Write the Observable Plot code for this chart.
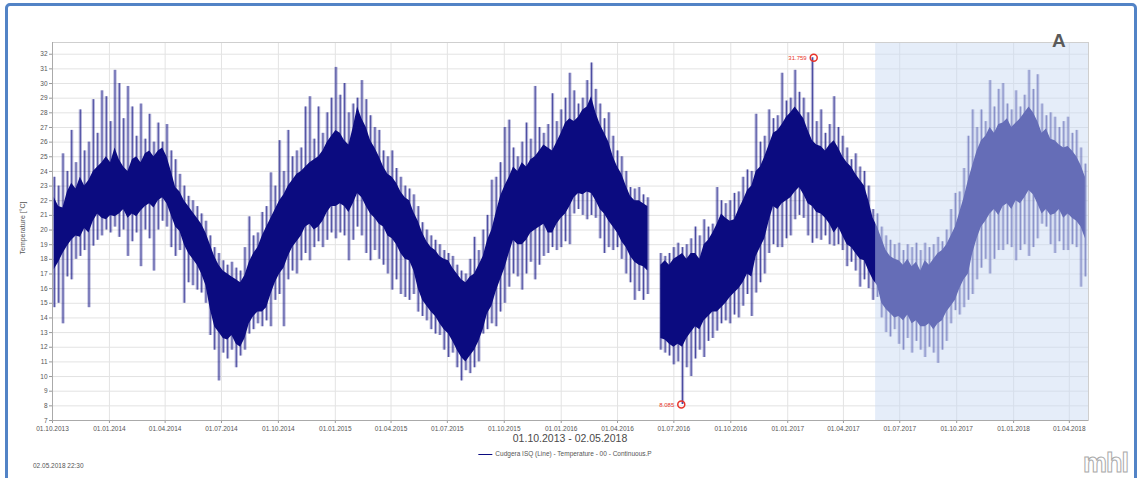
<!DOCTYPE html>
<html><head><meta charset="utf-8">
<script src="https://cdn.jsdelivr.net/npm/d3@7"></script>
<script src="https://cdn.jsdelivr.net/npm/@observablehq/plot@0.6"></script>
<style>
body{margin:0;background:#fff;font-family:"Liberation Sans",Arial,sans-serif;}
#wrap{position:relative;width:1140px;height:478px;overflow:hidden;background:#fff}
#chart{position:absolute;left:0;top:0}
#border{position:absolute;left:5px;top:3px;width:1132px;height:492px;border:3px solid #5283c6;border-radius:5px;box-sizing:border-box;pointer-events:none}
.t{position:absolute;white-space:nowrap;color:#555}
</style></head>
<body><div id="wrap">
<div id="chart"></div>
<div id="border"></div>
<div class="t" id="ylab" style="left:22px;top:228px;font-size:7px;transform:translate(-50%,-50%) rotate(-90deg)">Temperature [°C]</div>
<div class="t" style="left:570px;top:432px;font-size:10.5px;transform:translateX(-50%);color:#4a4a4a">01.10.2013 - 02.05.2018</div>
<div class="t" style="left:565px;top:450px;font-size:6.5px;transform:translateX(-50%);color:#555"><span style="display:inline-block;width:14px;height:1px;background:#0b0b80;vertical-align:middle;margin-right:3px"></span>Cudgera ISQ (Line) - Temperature - 00 - Continuous.P</div>
<div class="t" style="left:33px;top:462px;font-size:6.5px;color:#555">02.05.2018 22:30</div>
<div class="t" style="left:1052px;top:30px;font-size:19px;font-weight:bold;color:#5a5a5a">A</div>
<div class="t" style="left:1083px;top:448px;font-size:27px;font-weight:bold;color:#fff;-webkit-text-stroke:1px #aaa;letter-spacing:-1px">mhl</div>
</div>
<script>
// sampling grid: one sample every 7 days from 04.10.2013
const startDate = "2013-10-04";
const stepDays = 7;
const coreLo = [17.3,17.8,18.4, 18.9,19.3,19.6, 19.5,20.1,19.8, 20.6,21.1,20.8, 20.7,21.0,20.9,
 21.1,21.4,20.8, 21.1,20.9,21.3, 21.6,21.8,21.5, 22.0,22.2,21.8, 21.0,20.2,19.9,
 19.0,18.4,18.0, 17.6,17.0,16.2, 14.6,13.4,13.0, 12.6,12.5,12.8, 12.2,12.0,12.6,
 13.6,14.1,14.4, 14.4,14.7,15.6, 16.4,17.0,17.4, 18.2,18.8,19.2, 19.6,20.2,20.4,
 20.0,20.2,20.6, 21.2,21.6,21.6, 21.8,21.6,21.2, 21.8,22.5,22.2, 21.6,21.1,20.8,
 20.4,20.2,19.6, 19.4,19.0,18.4, 18.0,17.9,17.2, 16.0,15.2,14.8, 14.4,14.1,13.6,
 13.2,12.9,12.4, 11.8,11.3,11.0, 11.4,11.8,12.4, 13.2,14.3,14.8, 15.8,16.6,17.4,
 18.4,19.3,19.0, 19.0,19.3,19.8, 20.0,20.2,20.4, 19.8,19.8,20.4, 20.8,21.1,21.6,
 22.2,22.5,22.4, 22.6,22.5,22.0, 21.4,21.1,20.6, 20.2,19.8,19.2, 18.8,18.2,17.8,
 17.6,17.5,17.2, null,null,12.6, 12.5,12.2,12.0, 12.2,12.0,12.6, 13.0,13.4,13.2,
 13.8,14.1,14.4, 14.4,14.7,15.0, 15.4,15.7,16.0, 16.4,17.0,16.8, 18.2,18.8,19.4,
 20.6,21.6,21.4, 21.8,22.0,22.2, 22.6,22.9,22.4, 21.8,21.6,21.2, 21.1,20.8,20.4,
 19.8,20.2,19.6, 19.0,18.8,18.4, 18.0,17.9,17.2, 16.6,16.2,15.0, 14.6,14.3,14.0,
 14.1,13.8,14.2, 13.6,13.8,13.4, 13.4,13.6,13.2, 13.6,13.8,14.4, 14.8,15.2,16.0,
 16.6,17.0,18.4, 19.4,20.2,20.6, 21.1,21.4,21.0, 21.6,21.8,21.4, 22.0,21.8,22.2,
 22.7,22.4,21.8, 21.1,21.4,21.0, 21.1,21.4,20.8, 21.1,20.8,20.6, 20.2,19.4];
const coreHi = [22.2,21.6,21.5, 22.6,23.2,22.8, 23.6,23.0,23.4, 24.0,24.3,24.6, 25.0,24.6,25.6,
 24.8,24.3,24.0, 24.8,25.0,24.6, 25.2,25.4,25.0, 25.4,25.6,25.0, 24.0,22.9,22.6,
 22.0,21.6,21.2, 20.8,20.4,19.8, 19.0,18.2,17.6, 17.2,17.0,16.8, 16.6,16.4,16.9,
 17.8,18.4,18.8, 19.6,20.2,20.8, 21.4,22.0,22.4, 23.0,23.4,23.8, 24.0,24.3,24.6,
 24.8,25.0,25.4, 26.0,26.4,26.8, 26.6,26.1,25.8, 27.0,28.4,27.6, 27.0,26.1,25.6,
 25.0,24.3,23.8, 23.6,23.2,22.6, 22.2,22.0,21.2, 20.6,19.8,19.2, 18.8,18.6,18.2,
 18.0,17.9,17.4, 17.0,16.6,16.4, 16.8,17.0,17.6, 18.2,19.3,20.0, 21.2,22.3,23.0,
 23.6,24.3,24.0, 24.6,24.3,24.8, 25.0,25.4,25.8, 25.6,25.4,26.0, 26.6,27.3,27.6,
 27.4,27.7,28.2, 28.4,29.1,28.0, 27.2,26.6,26.0, 25.0,24.3,23.8, 23.0,22.3,22.0,
 22.0,21.8,21.6, null,null,17.6, 17.9,17.6,18.0, 18.2,18.4,18.0, 18.4,18.4,18.0,
 19.0,19.3,19.8, 20.4,21.1,20.8, 20.6,20.7,21.4, 22.0,22.7,23.0, 24.0,24.3,25.0,
 25.8,26.6,26.8, 27.2,27.7,28.0, 28.4,28.0,27.6, 26.8,26.1,25.8, 25.7,25.4,25.8,
 26.1,25.6,25.0, 24.6,24.3,23.8, 23.4,23.0,22.0, 20.8,20.2,19.4, 18.6,18.2,18.0,
 17.9,17.6,18.0, 17.5,17.8,17.2, 17.9,17.6,18.0, 18.4,18.6,19.0, 19.6,20.2,21.2,
 22.2,23.4,24.4, 25.4,26.1,26.4, 27.0,26.6,27.2, 27.3,27.6,27.0, 27.3,27.6,28.0,
 28.4,28.0,27.4, 26.6,26.9,26.2, 26.1,25.8,25.6, 25.7,25.4,25.0, 24.4,23.6];
const spikeLo = [14.7,15.0,13.6, 16.8,16.6,18.0, 18.2,18.6,14.7, 18.9,19.3,19.6, 20.0,19.8,20.2,
 19.5,20.0,18.2, 19.2,19.8,17.5, 20.0,19.4,17.2, 20.0,20.6,20.2, 18.8,18.2,18.6,
 15.0,16.4,16.2, 15.9,15.7,15.0, 12.8,11.8,9.7, 11.6,11.2,11.8, 10.6,11.4,11.8,
 12.9,13.2,13.6, 13.4,13.8,13.4, 15.2,15.6,13.4, 16.6,17.2,17.0, 17.9,18.4,17.9,
 18.8,19.2,18.8, 19.3,19.8,19.4, 19.8,19.6,17.9, 19.3,20.2,19.6, 18.4,17.9,18.6,
 18.0,17.6,17.0, 15.9,16.6,15.6, 15.4,15.2,15.6, 14.4,14.1,13.8, 13.2,12.9,12.8,
 11.8,11.3,11.6, 10.6,9.7,10.4, 10.2,10.6,11.0, 12.9,13.2,13.6, 13.4,14.4,15.0,
 16.1,17.0,16.8, 15.9,17.0,17.8, 16.6,17.6,18.2, 18.4,18.8,18.6, 18.8,19.2,19.0,
 21.1,21.4,21.0, 20.7,21.0,20.8, 19.4,18.4,18.8, 18.6,18.8,18.0, 17.0,16.4,15.2,
 15.8,15.2,15.6, null,null,11.8, 11.6,11.4,10.8, 11.0,8.09,10.6, 10.0,11.2,11.8,
 11.3,12.4,12.6, 13.1,13.6,13.8, 13.6,14.2,14.0, 14.8,15.6,14.1, 15.7,16.4,17.0,
 18.4,19.0,18.8, 18.8,19.4,19.6, 20.7,21.0,20.8, 19.6,19.1,19.4, 19.3,19.6,19.0,
 18.9,19.0,18.6, 17.5,17.8,17.2, 16.1,16.6,16.0, 15.2,15.4,14.0, 13.0,12.7,13.2,
 12.2,11.8,12.6, 11.6,12.4,11.8, 11.3,12.0,11.6, 10.9,11.8,12.4, 13.6,14.5,14.2,
 14.7,15.2,15.6, 16.6,17.4,18.0, 17.0,18.0,18.6, 18.6,19.0,18.8, 17.9,18.6,19.0,
 18.2,18.8,19.4, 20.4,20.2,19.0, 18.4,19.2,18.6, 18.6,19.0,18.8, 16.1,16.8];
const spikeHi = [23.6,23.0,25.2, 24.0,26.8,24.6, 28.2,25.4,26.0, 28.9,26.6,29.5, 29.1,27.4,30.9,
 30.0,27.6,29.8, 28.4,26.4,28.6, 26.2,27.9,26.0, 27.3,26.0,27.2, 25.4,24.8,23.8,
 23.0,22.3,22.0, 21.6,21.1,20.6, 19.6,18.8,18.4, 17.9,17.6,17.8, 17.4,17.2,18.8,
 20.9,19.6,19.8, 21.2,21.6,23.9, 23.0,26.1,24.0, 26.8,25.0,25.4, 25.6,28.4,29.1,
 26.2,28.4,26.6, 28.0,29.0,31.1, 29.2,30.0,28.0, 28.6,29.0,30.2, 28.9,27.8,27.0,
 26.8,25.4,25.0, 25.4,24.2,23.6, 23.0,22.8,22.4, 21.6,20.5,20.0, 19.6,19.3,19.0,
 18.6,18.4,18.2, 17.6,17.2,17.0, 18.0,19.5,18.6, 20.0,21.0,23.4, 23.6,24.6,27.0,
 27.5,25.6,25.0, 26.0,27.3,26.2, 29.8,27.0,26.6, 27.2,29.3,27.4, 28.2,29.0,30.7,
 29.5,28.6,29.0, 30.2,31.4,29.6, 28.6,27.6,28.0, 26.4,25.4,25.0, 24.0,22.9,22.8,
 22.9,22.4,22.2, null,null,18.4, 18.2,18.4,18.8, 19.1,18.8,19.0, 19.4,20.2,19.6,
 20.7,20.2,20.4, 22.9,22.0,21.8, 22.0,22.5,22.6, 23.6,24.1,24.0, 27.9,26.0,26.4,
 28.2,27.6,27.8, 30.7,28.8,29.0, 30.9,29.4,29.0, 28.0,31.76,27.4, 28.2,26.6,27.2,
 29.1,27.0,26.4, 25.6,24.8,25.2, 24.3,24.0,23.0, 21.4,21.1,20.2, 19.6,19.3,19.0,
 19.1,18.6,19.0, 18.8,19.1,18.6, 19.1,18.8,19.0, 19.5,19.2,20.0, 21.4,22.5,22.6,
 24.2,26.4,28.2, 27.0,28.2,27.4, 30.2,28.4,29.6, 30.0,28.6,28.2, 29.5,28.4,29.2,
 30.9,29.6,30.6, 28.6,27.8,28.0, 27.7,27.0,27.4, 27.7,26.6,26.8, 25.6,24.5];
const yTicks = [7,8,9,10,11,12,13,14,15,16,17,18,19,20,21,22,23,24,25,26,27,28,29,30,31,32];
const xTicks = ["2013-10-01","2014-01-01","2014-04-01","2014-07-01","2014-10-01","2015-01-01","2015-04-01","2015-07-01","2015-10-01","2016-01-01","2016-04-01","2016-07-01","2016-10-01","2017-01-01","2017-04-01","2017-07-01","2017-10-01","2018-01-01","2018-04-01"];
const xDomain = ["2013-10-01","2018-05-02"];
const shaded = [{x1:"2017-05-23", x2:"2018-05-02"}];
const extremes = [{date:"2017-02-12", value:31.759, label:"31.759"},{date:"2016-07-13", value:8.085, label:"8.085"}];

const start = new Date(startDate);
const samples = coreHi.map((h,i)=>({date: d3.utcDay.offset(start, i*stepDays), hi:h, lo:coreLo[i], up:spikeHi[i], down:spikeLo[i]}));
const valid = samples.filter(d=>d.hi!=null);
const tickDates = xTicks.map(d=>new Date(d));
const ext = extremes.map(d=>({...d, date:new Date(d.date)}));
const navy = "#0b0b80";

const chart = Plot.plot({
  width:1140, height:478,
  marginLeft:52, marginRight:52, marginTop:42, marginBottom:58,
  style:{fontFamily:'"Liberation Sans",Arial,sans-serif', fontSize:"6.5px", color:"#555", background:"transparent"},
  x:{type:"utc", domain:xDomain.map(d=>new Date(d))},
  y:{domain:[7,32.8]},
  marks:[
    Plot.gridY(yTicks,{stroke:"#e3e3e3", strokeOpacity:1}),
    Plot.gridX(tickDates,{stroke:"#e3e3e3", strokeOpacity:1}),
    Plot.ruleX(valid,{x:"date", y1:"down", y2:"up", stroke:navy, strokeOpacity:0.3, strokeWidth:3.2}),
    Plot.ruleX(valid,{x:"date", y1:"down", y2:"up", stroke:navy, strokeOpacity:0.7, strokeWidth:0.9}),
    Plot.areaY(samples,{x:"date", y1:"lo", y2:"hi", fill:navy, curve:"linear"}),
    Plot.rect(shaded,{x1:d=>new Date(d.x1), x2:d=>new Date(d.x2), y1:7, y2:32.8, fill:"#c9daf2", fillOpacity:0.48}),
    Plot.frame({stroke:"#cfcfcf"}),
    Plot.axisY(yTicks,{tickSize:3, tickPadding:2, stroke:"#999", fill:"#555", label:null}),
    Plot.axisX(tickDates,{tickSize:3, tickPadding:3, stroke:"#999", fill:"#555", tickFormat:d3.utcFormat("%d.%m.%Y"), label:null}),
    Plot.ruleY([7],{stroke:"#aaa"}),
    Plot.ruleX([new Date(xDomain[0])],{stroke:"#aaa"}),
    Plot.dot(ext,{x:"date", y:"value", r:3.5, stroke:"#e8332a", strokeWidth:1.5, fill:"none"}),
    Plot.text(ext,{x:"date", y:"value", text:"label", dx:-7, textAnchor:"end", fill:"#e8332a", fontSize:6})
  ]
});
document.getElementById("chart").appendChild(chart);
</script>
</body></html>
